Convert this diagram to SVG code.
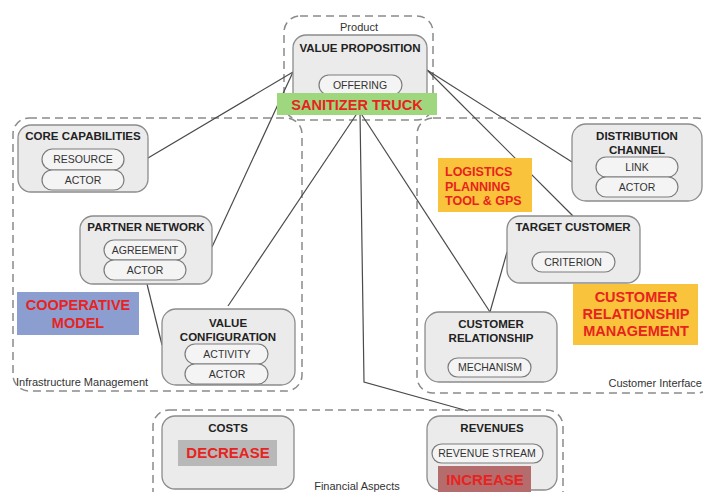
<svg xmlns="http://www.w3.org/2000/svg" width="703" height="492" viewBox="0 0 703 492">
  <style>
    .area { fill: none; stroke: #8a8a8a; stroke-width: 1.5; stroke-dasharray: 8 5; }
    .area-label { font-family: "Liberation Sans", Arial, sans-serif; font-size: 11px; fill: #333; }
    .node { fill: #ebebeb; stroke: #8c8c8c; stroke-width: 1.3; }
    .pill { fill: #f4f4f4; stroke: #7c7c7c; stroke-width: 1.2; }
    .title { font-family: "Liberation Sans", Arial, sans-serif; font-size: 11.5px; font-weight: bold; fill: #222; text-anchor: middle; }
    .item { font-family: "Liberation Sans", Arial, sans-serif; font-size: 10.5px; fill: #333; text-anchor: middle; }
    .note { font-family: "Liberation Sans", Arial, sans-serif; font-weight: bold; fill: #e8231f; }
    .link { fill: none; stroke: #4a4a4a; stroke-width: 1.2; }
  </style>
  <rect width="703" height="492" fill="#ffffff"/>

  <!-- area frames -->
  <g id="areas">
    <rect class="area" x="284" y="16" width="149" height="104" rx="16"/>
    <rect class="area" x="13" y="118" width="289" height="273" rx="16"/>
    <rect class="area" x="417" y="118" width="296" height="275" rx="16"/>
    <rect class="area" x="153" y="410" width="410" height="100" rx="16"/>
    <text class="area-label" x="359" y="31" text-anchor="middle">Product</text>
    <text class="area-label" x="16" y="386">Infrastructure Management</text>
    <text class="area-label" x="702" y="387" text-anchor="end">Customer Interface</text>
    <text class="area-label" x="357" y="490" text-anchor="middle">Financial Aspects</text>
  </g>

  <!-- connectors -->
  <g id="connectors">
    <line class="link" x1="293" y1="72" x2="148" y2="158"/>
    <line class="link" x1="293" y1="72" x2="212" y2="247"/>
    <line class="link" x1="358" y1="112" x2="228" y2="306"/>
    <polyline class="link" points="360,112 364,382 468,411"/>
    <line class="link" x1="360" y1="112" x2="490" y2="312"/>
    <line class="link" x1="427" y1="70" x2="572" y2="162"/>
    <line class="link" x1="427" y1="70" x2="573" y2="216"/>
    <line class="link" x1="507" y1="252" x2="490" y2="312"/>
    <line class="link" x1="147" y1="284" x2="162" y2="345"/>
  </g>

  <!-- nodes -->
  <g id="value-proposition">
    <rect class="node" x="293" y="35" width="134" height="72" rx="13"/>
    <text class="title" x="360" y="52">VALUE PROPOSITION</text>
    <rect class="pill" x="319" y="75" width="83" height="20" rx="10"/>
    <text class="item" x="360" y="89">OFFERING</text>
  </g>

  <g id="core-capabilities">
    <rect class="node" x="18" y="125" width="130" height="67" rx="13"/>
    <text class="title" x="83" y="140">CORE CAPABILITIES</text>
    <rect class="pill" x="42" y="149" width="82" height="21" rx="10.5"/>
    <text class="item" x="83" y="163">RESOURCE</text>
    <rect class="pill" x="42" y="170" width="82" height="20" rx="10"/>
    <text class="item" x="83" y="184">ACTOR</text>
  </g>

  <g id="partner-network">
    <rect class="node" x="80" y="216" width="132" height="68" rx="13"/>
    <text class="title" x="146" y="231">PARTNER NETWORK</text>
    <rect class="pill" x="104" y="240" width="82" height="20" rx="10"/>
    <text class="item" x="145" y="254">AGREEMENT</text>
    <rect class="pill" x="104" y="260" width="82" height="20" rx="10"/>
    <text class="item" x="145" y="274">ACTOR</text>
  </g>

  <g id="value-configuration">
    <rect class="node" x="162" y="309" width="133" height="76" rx="14"/>
    <text class="title" x="228" y="327">VALUE</text>
    <text class="title" x="228" y="341">CONFIGURATION</text>
    <rect class="pill" x="185" y="344" width="83" height="20" rx="10"/>
    <text class="item" x="227" y="358">ACTIVITY</text>
    <rect class="pill" x="185" y="364" width="83" height="20" rx="10"/>
    <text class="item" x="227" y="378">ACTOR</text>
  </g>

  <g id="distribution-channel">
    <rect class="node" x="572" y="124" width="130" height="77" rx="14"/>
    <text class="title" x="637" y="140">DISTRIBUTION</text>
    <text class="title" x="637" y="154">CHANNEL</text>
    <rect class="pill" x="596" y="157" width="82" height="20" rx="10"/>
    <text class="item" x="637" y="171">LINK</text>
    <rect class="pill" x="596" y="177" width="82" height="20" rx="10"/>
    <text class="item" x="637" y="191">ACTOR</text>
  </g>

  <g id="target-customer">
    <rect class="node" x="507" y="216" width="133" height="67" rx="13"/>
    <text class="title" x="573" y="231">TARGET CUSTOMER</text>
    <rect class="pill" x="532" y="252" width="83" height="20" rx="10"/>
    <text class="item" x="573" y="266">CRITERION</text>
  </g>

  <g id="customer-relationship">
    <rect class="node" x="425" y="312" width="132" height="70" rx="14"/>
    <text class="title" x="491" y="328">CUSTOMER</text>
    <text class="title" x="491" y="342">RELATIONSHIP</text>
    <rect class="pill" x="448" y="358" width="83" height="19" rx="9.5"/>
    <text class="item" x="490" y="371">MECHANISM</text>
  </g>

  <g id="costs">
    <rect class="node" x="162" y="416" width="132" height="73" rx="13"/>
    <text class="title" x="228" y="432">COSTS</text>
  </g>

  <g id="revenues">
    <rect class="node" x="427" y="416" width="130" height="74" rx="13"/>
    <text class="title" x="492" y="432">REVENUES</text>
    <rect class="pill" x="432" y="444" width="111" height="19" rx="9.5"/>
    <text class="item" x="487" y="457">REVENUE STREAM</text>
  </g>

  <!-- highlighted annotations -->
  <g id="sanitizer-truck">
    <rect x="277" y="93" width="160" height="22" fill="#9fd77e"/>
    <text class="note" x="357" y="110" font-size="14.5" text-anchor="middle">SANITIZER TRUCK</text>
  </g>

  <g id="cooperative-model">
    <rect x="17" y="292" width="122" height="43" fill="#8c9dcf"/>
    <text class="note" x="78" y="310" font-size="14.5" text-anchor="middle">COOPERATIVE</text>
    <text class="note" x="78" y="328" font-size="14.5" text-anchor="middle">MODEL</text>
  </g>

  <g id="logistics-tool">
    <rect x="438" y="158" width="94" height="54" fill="#f9c43b"/>
    <text class="note" x="445" y="176" font-size="12.5">LOGISTICS</text>
    <text class="note" x="445" y="191" font-size="12.5">PLANNING</text>
    <text class="note" x="445" y="205" font-size="12.5">TOOL &amp; GPS</text>
  </g>

  <g id="relationship-management">
    <rect x="573" y="284" width="125" height="61" fill="#f9c43b"/>
    <text class="note" x="636" y="302" font-size="14.5" text-anchor="middle">CUSTOMER</text>
    <text class="note" x="636" y="319" font-size="14.5" text-anchor="middle">RELATIONSHIP</text>
    <text class="note" x="636" y="336" font-size="14.5" text-anchor="middle">MANAGEMENT</text>
  </g>

  <g id="decrease">
    <rect x="178" y="440" width="99" height="26" fill="#b8b8b8"/>
    <text class="note" x="228" y="458" font-size="15" text-anchor="middle">DECREASE</text>
  </g>

  <g id="increase">
    <rect x="438" y="466" width="93" height="30" fill="#b46c6c"/>
    <text class="note" x="485" y="485" font-size="15" text-anchor="middle">INCREASE</text>
  </g>
</svg>
